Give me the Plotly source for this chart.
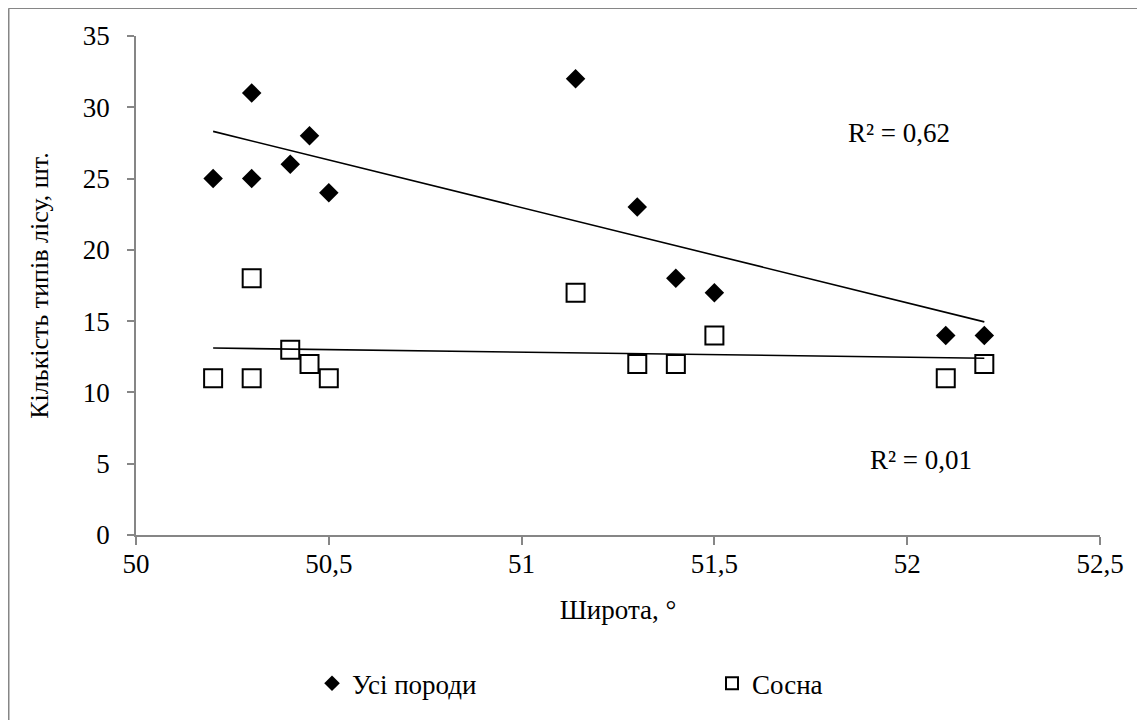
import numpy as np
import plotly.graph_objects as go

# Data
lat_all = [50.2, 50.3, 50.3, 50.4, 50.45, 50.5, 51.14, 51.3, 51.4, 51.5, 52.1, 52.2]
n_all = [25, 31, 25, 26, 28, 24, 32, 23, 18, 17, 14, 14]
lat_pine = [50.2, 50.3, 50.3, 50.4, 50.45, 50.5, 51.14, 51.3, 51.4, 51.5, 52.1, 52.2]
n_pine = [11, 18, 11, 13, 12, 11, 17, 12, 12, 14, 11, 12]

x_ticks = [50, 50.5, 51, 51.5, 52, 52.5]
x_tick_text = ["50", "50,5", "51", "51,5", "52", "52,5"]
y_ticks = [0, 5, 10, 15, 20, 25, 30, 35]

series_names = ["Усі породи", "Сосна"]
r2_labels = ["R² = 0,62", "R² = 0,01"]

FONT = "Liberation Serif, Times New Roman, serif"
FS = 27
AXIS_COLOR = "#868686"

fig = go.Figure()

fig.add_trace(go.Scatter(
    x=lat_all, y=n_all, mode="markers", name=series_names[0], legend="legend",
    marker=dict(symbol="diamond", size=15, color="black", line=dict(width=0)),
))
fig.add_trace(go.Scatter(
    x=lat_pine, y=n_pine, mode="markers", name=series_names[1], legend="legend2",
    marker=dict(symbol="square-open", size=18, color="black", line=dict(width=2, color="black")),
))

# Linear trendlines
for xs, ys in [(lat_all, n_all), (lat_pine, n_pine)]:
    k, b = np.polyfit(xs, ys, 1)
    x0, x1 = min(xs), max(xs)
    fig.add_trace(go.Scatter(
        x=[x0, x1], y=[k * x0 + b, k * x1 + b], mode="lines",
        line=dict(color="black", width=1.6), showlegend=False, hoverinfo="skip",
    ))

fig.add_annotation(x=51.98, y=28.2, xref="x", yref="y", text=r2_labels[0],
                   showarrow=False, font=dict(family=FONT, size=FS, color="black"))
fig.add_annotation(x=52.036, y=5.24, xref="x", yref="y", text=r2_labels[1],
                   showarrow=False, font=dict(family=FONT, size=FS, color="black"))

# Outer chart frame (left and top edges visible)
fig.add_shape(type="line", xref="paper", yref="paper",
              x0=-0.132, x1=1.07, y0=1.0555, y1=1.0555,
              line=dict(color=AXIS_COLOR, width=1.5))
fig.add_shape(type="line", xref="paper", yref="paper",
              x0=-0.132, x1=-0.132, y0=1.0555, y1=-0.40,
              line=dict(color=AXIS_COLOR, width=1.5))

legend_common = dict(
    orientation="h", yanchor="middle", xanchor="left",
    font=dict(family=FONT, size=FS, color="black"),
    itemwidth=30, itemsizing="constant", bgcolor="rgba(0,0,0,0)",
)

fig.update_layout(
    width=1145, height=720,
    margin=dict(l=128, r=53, t=28, b=193),
    paper_bgcolor="white", plot_bgcolor="white",
    font=dict(family=FONT, size=FS, color="black"),
    showlegend=True,
    legend=dict(x=0.1826, y=-0.298, **legend_common),
    legend2=dict(x=0.5975, y=-0.298, **legend_common),
    xaxis=dict(
        range=[50, 52.5], tickvals=x_ticks, ticktext=x_tick_text,
        showgrid=False, zeroline=False, showline=True, linecolor=AXIS_COLOR, linewidth=1.5,
        ticks="outside", ticklen=8, tickcolor=AXIS_COLOR, tickwidth=1.5,
        tickfont=dict(family=FONT, size=FS, color="black"),
        ticklabelstandoff=-4,
        title=dict(text="Широта, °", font=dict(family=FONT, size=FS, color="black"), standoff=22),
    ),
    yaxis=dict(
        range=[0, 35], tickvals=y_ticks,
        showgrid=False, zeroline=False, showline=True, linecolor=AXIS_COLOR, linewidth=1.5,
        ticks="outside", ticklen=7, tickcolor=AXIS_COLOR, tickwidth=1.5,
        tickfont=dict(family=FONT, size=FS, color="black"),
        ticklabelstandoff=12,
        title=dict(text="Кількість типів лісу, шт.", font=dict(family=FONT, size=26, color="black"), standoff=27),
    ),
)

fig.write_html("out.html")
